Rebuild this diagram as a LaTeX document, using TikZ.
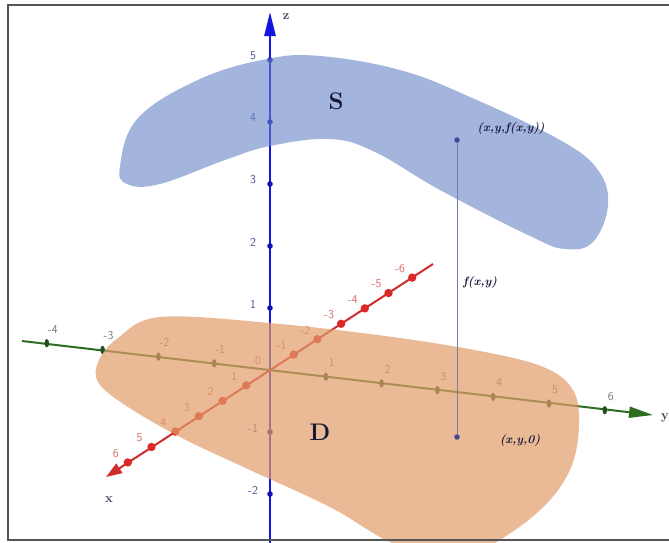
\documentclass[tikz,border=0pt]{standalone}
\usetikzlibrary{arrows.meta}
\definecolor{zblue}{RGB}{20,20,225}
\definecolor{ygreen}{RGB}{45,110,35}
\definecolor{ytick}{RGB}{35,80,35}
\definecolor{xred}{RGB}{205,45,45}
\definecolor{xtick}{RGB}{220,40,40}
\definecolor{zlabc}{RGB}{75,85,150}
\definecolor{ylabc}{RGB}{115,125,105}
\definecolor{xlabc}{RGB}{215,105,105}
\definecolor{sfill}{RGB}{103,133,198}
\definecolor{dfill}{RGB}{226,156,105}
\definecolor{framec}{RGB}{85,85,85}
\definecolor{txtc}{RGB}{25,25,55}
\definecolor{ptc}{RGB}{70,70,150}
\definecolor{connc}{RGB}{115,125,175}
\begin{document}
\begin{tikzpicture}[x=1pt,y=-1pt,
  ticklab/.style={font=\fontsize{12}{12}\sffamily, inner sep=0pt},
  ptlabel/.style={font=\fontsize{12}{12}\bfseries\itshape, text=txtc, inner sep=0pt},
  biglab/.style={font=\fontsize{24}{24}\bfseries, text=txtc, inner sep=0pt},
  axlab/.style={font=\fontsize{13}{13}\bfseries, text=txtc!85, inner sep=0pt},
  ptdot/.style={circle, fill=ptc, minimum size=5.5pt, inner sep=0pt},
  conn/.style={draw=connc, line width=1pt}]
\useasboundingbox (0,0) rectangle (669,542);
\fill[white] (0,0) rectangle (669,542);
% axes coordinates
\coordinate (O) at (270,370);
\coordinate (ztip) at (270,12);
\coordinate (zbot) at (270,545);
\coordinate (ystart) at (22,341);
\coordinate (ytip) at (653,415);
\coordinate (xend) at (433,264);
\coordinate (xtip) at (106,477);
% z axis
\draw[zblue, line width=2.6pt, -{Triangle[length=24pt,width=11pt]}] (zbot) -- (ztip);
\foreach \k in {-2,-1,1,2,3,4,5} {
  \fill[zblue!80!black] (270,{370-62*\k}) circle (2.8pt);
  \node[ticklab, text=zlabc] at (253,{366-62*\k}) {\k};
}
% S surface
\fill[sfill, fill opacity=0.6] plot[smooth cycle, tension=0.65] coordinates {
  (120,166) (138,118) (200,79) (267,59) (320,56) (400,70) (470,97) (560,140)
  (598,170) (608,205) (593,242) (565,249) (530,236) (440,190) (375,152)
  (330,139) (270,146) (225,160) (160,184) (127,184)};
% y axis
\draw[ygreen, line width=2pt, -{Triangle[length=24pt,width=11pt]}] (ystart) -- (ytip);
\foreach \k in {-4,-3,-2,-1,1,2,3,4,5,6} {
  \fill[ytick] ({270+55.8*\k},{370+6.7*\k}) ellipse (2.3pt and 4.2pt);
  \node[ticklab, text=ylabc] at ({276+55.8*\k},{356+6.7*\k}) {\k};
}
% x axis
\draw[xred, line width=2pt, -{Triangle[length=16pt,width=11pt]}] (xend) -- (xtip);
\foreach \k in {-6,-5,-4,-3,-2,-1,1,2,3,4,5,6} {
  \fill[xtick] ({270-23.7*\k},{370+15.4*\k}) circle (4.2pt);
  \node[ticklab, text=xlabc] at ({258-23.7*\k},{361+15.4*\k}) {\k};
}
\node[ticklab, text=xlabc] (zero) at (258,361) {0};
% D region
\fill[dfill, fill opacity=0.7] plot[smooth cycle, tension=0.6] coordinates {
  (160,317) (270,323) (400,338) (500,355) (550,370) (574,392) (579,425)
  (572,465) (550,500) (512,532) (470,552) (400,546) (330,507) (250,470)
  (180,437) (125,405) (98,382) (99,360) (118,338)};
% frame
\draw[framec, line width=2pt] (669,5) -- (8,5) -- (8,540) -- (669,540);
% axis letters
\node[axlab] (zlab) at (286,17) {z};
\node[axlab] (ylab) at (665,418) {y};
\node[axlab] (xlab) at (109,500) {x};
% region labels
\node[biglab] (S) at (336,101) {S};
\node[biglab] (D) at (320,432) {D};
% points and connector
\node[ptdot] (P) at (457,140) {};
\node[ptdot] (Q) at (457,437) {};
\draw[conn] (P) -- (Q);
\node[ptlabel] (Plab) at (511,128) {(x,y,f(x,y))};
\node[ptlabel] (flab) at (480,282) {f(x,y)};
\node[ptlabel] (Qlab) at (520,440) {(x,y,0)};
\end{tikzpicture}
\end{document}
